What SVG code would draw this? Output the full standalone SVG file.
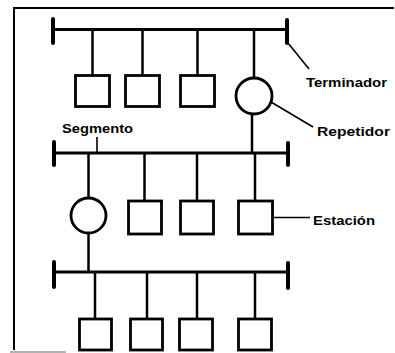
<svg xmlns="http://www.w3.org/2000/svg" width="395" height="353" viewBox="0 0 395 353">
  <style>
    .bg { fill: #ffffff; }
    .frame { stroke: #000; stroke-width: 2; fill: none; }
    .faint { stroke: #999; stroke-width: 1.5; fill: none; }
    .bus { stroke: #000; stroke-width: 3; fill: none; }
    .term { stroke: #000; stroke-width: 4; fill: none; stroke-linecap: round; }
    .wire { stroke: #000; stroke-width: 2.5; fill: none; }
    .lead { stroke: #000; stroke-width: 1.6; fill: none; }
    .node { stroke: #000; stroke-width: 2.8; fill: #fff; }
    .label { font-family: "Liberation Sans", Arial, sans-serif; font-weight: bold; font-size: 13px; fill: #000; }
  </style>

  <rect class="bg" x="0" y="0" width="395" height="353"/>

  <!-- page frame -->
  <path class="frame" d="M14,350 V8 H394"/>
  <path class="faint" d="M10,352 H66"/>

  <!-- cable segments, drops and leader lines -->
  <g id="connectors">
    <!-- segment 1 -->
    <path class="bus" d="M53,29.5 H287"/>
    <path class="term" d="M53,19 V43 M287,20 V43"/>
    <path class="wire" d="M92.5,29 V75 M142.5,29 V75 M197.5,29 V75 M254,29 V78"/>
    <!-- repeater to segment 2 -->
    <path class="wire" d="M252,114 V153"/>
    <!-- segment 2 -->
    <path class="bus" d="M54,153 H288"/>
    <path class="term" d="M54,142 V165 M288,143 V165"/>
    <path class="wire" d="M88.5,153 V198 M144.5,153 V201 M197,153 V201 M255,153 V201"/>
    <!-- repeater to segment 3 -->
    <path class="wire" d="M88.5,233 V272"/>
    <!-- segment 3 -->
    <path class="bus" d="M54,272 H288"/>
    <path class="term" d="M54,262 V287 M288,263 V288"/>
    <path class="wire" d="M95,272 V319 M147,272 V319 M197,272 V319 M255,272 V319"/>
    <!-- label leaders -->
    <path class="lead" d="M288,43 L309,69"/>
    <path class="lead" d="M271,102 L313,127"/>
    <path class="lead" d="M97,137 V153"/>
    <path class="lead" d="M273,217.5 H310"/>
  </g>

  <!-- segment 1 stations -->
  <g id="station-1-1"><rect class="node" x="75.5" y="75.5" width="34" height="31"/></g>
  <g id="station-1-2"><rect class="node" x="125.5" y="75.5" width="34" height="31"/></g>
  <g id="station-1-3"><rect class="node" x="180.5" y="75.5" width="34" height="31"/></g>
  <g id="repeater-1"><circle class="node" cx="254" cy="96" r="18"/></g>

  <!-- segment 2 stations -->
  <g id="repeater-2"><circle class="node" cx="88.5" cy="215.5" r="17.5"/></g>
  <g id="station-2-1"><rect class="node" x="128.5" y="201" width="33" height="33"/></g>
  <g id="station-2-2"><rect class="node" x="180.5" y="201" width="33" height="33"/></g>
  <g id="station-2-3"><rect class="node" x="238.5" y="201" width="34" height="33"/></g>

  <!-- segment 3 stations -->
  <g id="station-3-1"><rect class="node" x="79.5" y="319" width="32" height="31"/></g>
  <g id="station-3-2"><rect class="node" x="130.5" y="319" width="32" height="31"/></g>
  <g id="station-3-3"><rect class="node" x="179.5" y="319" width="33" height="31"/></g>
  <g id="station-3-4"><rect class="node" x="238.5" y="319" width="33" height="31"/></g>

  <!-- labels -->
  <g id="label-terminador"><text class="label" x="306" y="87" textLength="81" lengthAdjust="spacingAndGlyphs">Terminador</text></g>
  <g id="label-repetidor"><text class="label" x="317" y="136" textLength="73" lengthAdjust="spacingAndGlyphs">Repetidor</text></g>
  <g id="label-segmento"><text class="label" x="62" y="133" textLength="71" lengthAdjust="spacingAndGlyphs">Segmento</text></g>
  <g id="label-estacion"><text class="label" x="313" y="225" textLength="62" lengthAdjust="spacingAndGlyphs">Estación</text></g>
</svg>
